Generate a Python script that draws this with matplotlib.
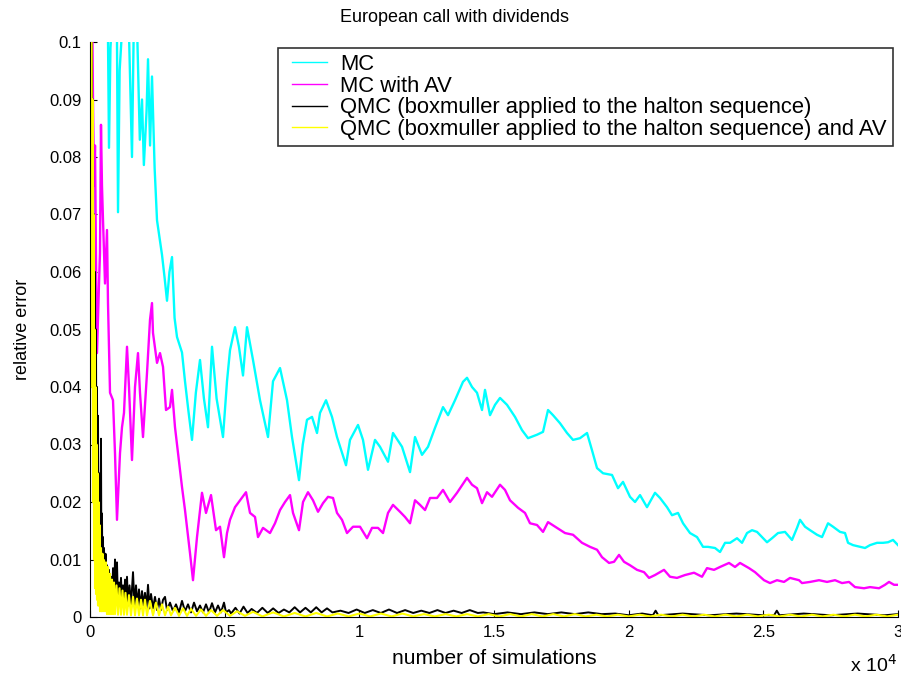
import matplotlib.pyplot as plt

# MC
mc_n = [1, 300, 650, 705, 760, 820, 900, 1000, 1040, 1100, 1188, 1300, 1450, 1559, 1620, 1745,
        1850, 1931, 2000, 2100, 2154, 2230, 2302, 2400, 2488, 2580, 2673, 2770, 2859, 2950, 3045,
        3140, 3230, 3416, 3527, 3650, 3787, 3930, 4084, 4230, 4381, 4530, 4700, 4938, 5087, 5198,
        5384, 5530, 5681, 5829, 6052, 6312, 6609, 6795, 7055, 7315, 7500, 7650, 7760, 7900, 8057,
        8243, 8429, 8540, 8763, 8985, 9171, 9505, 9654, 9951, 10136, 10322, 10582, 10768, 11065,
        11250, 11585, 11882, 12067, 12327, 12550, 12810, 13107, 13293, 13552, 13849, 13998, 14184,
        14369, 14555, 14666, 14852, 15038, 15223, 15483, 15780, 16040, 16263, 16597, 16820, 17006,
        17191, 17451, 17711, 17934, 18194, 18454, 18639, 18825, 19048, 19382, 19605, 19790, 20050,
        20236, 20422, 20681, 20978, 21164, 21424, 21610, 21832, 22018, 22278, 22538, 22761, 22946,
        23206, 23392, 23578, 23763, 24023, 24209, 24394, 24580, 24766, 24951, 25137, 25323, 25545,
        25805, 26065, 26251, 26362, 26548, 26734, 26994, 27179, 27402, 27588, 27848, 28033, 28145,
        28330, 28590, 28776, 28961, 29221, 29444, 29630, 29815, 30000]
mc_err = [0.35, 0.2, 0.11, 0.0816, 0.099, 0.104, 0.108, 0.102, 0.0704, 0.095, 0.102, 0.105, 0.101,
          0.080, 0.101, 0.103, 0.083, 0.09, 0.0786, 0.088, 0.097, 0.082, 0.094, 0.078, 0.069, 0.066,
          0.063, 0.059, 0.055, 0.060, 0.0626, 0.052, 0.0487, 0.046, 0.041, 0.036, 0.0308, 0.039,
          0.0447, 0.038, 0.033, 0.047, 0.038, 0.0313, 0.041, 0.0464, 0.0504, 0.047, 0.042, 0.0504,
          0.0447, 0.0377, 0.0313, 0.041, 0.0433, 0.0377, 0.0313, 0.027, 0.0238, 0.030, 0.0343,
          0.0348, 0.032, 0.0355, 0.0377, 0.0348, 0.0313, 0.0264, 0.0308, 0.0334, 0.0308, 0.0256,
          0.0308, 0.0296, 0.027, 0.032, 0.0296, 0.0252, 0.0313, 0.0282, 0.0296, 0.0329, 0.0365,
          0.0351, 0.0377, 0.0409, 0.0416, 0.04, 0.039, 0.036, 0.0395, 0.0351, 0.0369, 0.0381,
          0.0369, 0.0348, 0.0325, 0.0311, 0.0317, 0.0322, 0.036, 0.0351, 0.0337, 0.032, 0.0308,
          0.0311, 0.032, 0.029, 0.0259, 0.025, 0.0247, 0.0224, 0.0235, 0.0209, 0.02, 0.0212,
          0.0191, 0.0216, 0.0207, 0.0191, 0.0177, 0.0181, 0.0163, 0.0146, 0.0139, 0.0122, 0.0122,
          0.012, 0.0113, 0.0129, 0.0129, 0.0137, 0.0129, 0.0146, 0.0151, 0.0148, 0.0139, 0.013,
          0.0137, 0.0146, 0.0148, 0.0134, 0.0155, 0.0169, 0.0157, 0.0151, 0.0143, 0.0139, 0.0163,
          0.0157, 0.0148, 0.0146, 0.0129, 0.0125, 0.0122, 0.012, 0.0125, 0.0129, 0.0129, 0.013,
          0.0134, 0.0125]

# MC with AV
av_n = [1, 74, 111, 148, 186, 223, 260, 334, 371, 408, 445, 483, 557, 631, 668, 743, 854, 928,
        1002, 1114, 1188, 1262, 1374, 1448, 1559, 1671, 1782, 1856, 1968, 2116, 2228, 2302, 2339,
        2488, 2599, 2711, 2822, 2970, 3045, 3156, 3268, 3416, 3527, 3713, 3824, 3973, 4158, 4307,
        4493, 4679, 4827, 4975, 5087, 5198, 5384, 5570, 5792, 5941, 6127, 6238, 6424, 6683, 6869,
        7055, 7241, 7426, 7538, 7760, 7909, 8094, 8280, 8466, 8652, 8837, 9023, 9171, 9357, 9542,
        9765, 10025, 10285, 10471, 10693, 10879, 11065, 11250, 11510, 11696, 11882, 12067, 12253,
        12439, 12625, 12885, 13107, 13367, 13627, 13998, 14184, 14369, 14555, 14741, 14926, 15223,
        15409, 15594, 15891, 16151, 16337, 16597, 16820, 17006, 17340, 17637, 17934, 18268, 18565,
        18825, 19011, 19271, 19457, 19642, 19828, 20050, 20310, 20570, 20756, 20978, 21312, 21535,
        21795, 22092, 22426, 22723, 22909, 23169, 23392, 23726, 23949, 24134, 24468, 24691, 25025,
        25248, 25508, 25768, 25991, 26325, 26436, 26734, 27068, 27365, 27662, 27922, 28182, 28404,
        28739, 28961, 29295, 29518, 29667, 29852, 30000]
av_err = [0.3, 0.11, 0.09, 0.075, 0.082, 0.062, 0.0459, 0.058, 0.0633, 0.0856, 0.075, 0.069,
          0.058, 0.0673, 0.0546, 0.039, 0.0377, 0.0285, 0.0169, 0.0285, 0.033, 0.0355, 0.047, 0.04,
          0.0273, 0.04, 0.0459, 0.039, 0.0313, 0.0424, 0.0517, 0.0546, 0.0494, 0.0442, 0.0459,
          0.0435, 0.036, 0.0365, 0.0395, 0.033, 0.0285, 0.0226, 0.0186, 0.0111, 0.0064, 0.0139,
          0.0216, 0.0181, 0.0212, 0.0151, 0.0157, 0.0104, 0.0146, 0.0169, 0.0191, 0.0203, 0.0217,
          0.0181, 0.0174, 0.0139, 0.0155, 0.0146, 0.0163, 0.0186, 0.02, 0.0212, 0.0181, 0.0151,
          0.02, 0.0217, 0.0203, 0.0183, 0.0198, 0.0209, 0.0207, 0.0181, 0.0169, 0.0146, 0.0157,
          0.0157, 0.0137, 0.0155, 0.0155, 0.0146, 0.0181, 0.0195, 0.0183, 0.0174, 0.0163, 0.0203,
          0.0195, 0.0186, 0.0207, 0.0207, 0.0221, 0.02, 0.0216, 0.0242, 0.023, 0.0224, 0.0198,
          0.0217, 0.0209, 0.023, 0.0221, 0.0203, 0.019, 0.0181, 0.0163, 0.016, 0.0148, 0.0165,
          0.0155, 0.0146, 0.0143, 0.0129, 0.0122, 0.0117, 0.0104, 0.0094, 0.0096, 0.0108, 0.0096,
          0.009, 0.0082, 0.0078, 0.0068, 0.0073, 0.0082, 0.007, 0.0068, 0.0073, 0.0077, 0.007,
          0.0085, 0.0082, 0.0087, 0.0094, 0.0087, 0.0094, 0.0085, 0.0078, 0.0064, 0.0059, 0.0064,
          0.0061, 0.0068, 0.0064, 0.0059, 0.0061, 0.0064, 0.0061, 0.0064, 0.0059, 0.0061, 0.0052,
          0.005, 0.0052, 0.005, 0.0056, 0.0061, 0.0056, 0.0056]

# QMC (halton + boxmuller)
qmc_n = [10, 37, 74, 93, 111, 130, 148, 167, 186, 204, 223, 241, 260, 278, 297, 316, 334, 353,
         371, 390, 408, 427, 445, 464, 483, 501, 520, 557, 576, 613, 631, 668, 705, 743, 780, 817,
         854, 891, 928, 965, 1002, 1040, 1077, 1114, 1151, 1188, 1225, 1262, 1300, 1337, 1374,
         1411, 1467, 1522, 1597, 1652, 1708, 1764, 1819, 1875, 1931, 1986, 2042, 2098, 2154, 2210,
         2265, 2339, 2413, 2488, 2562, 2636, 2711, 2785, 2859, 2970, 3082, 3193, 3305, 3416, 3527,
         3639, 3750, 3862, 3973, 4084, 4196, 4307, 4418, 4530, 4641, 4753, 4864, 4975, 5050, 5161,
         5240, 5400, 5550, 5700, 5850, 6000, 6200, 6400, 6600, 6800, 7000, 7200, 7400, 7600, 7800,
         8000, 8200, 8400, 8600, 8800, 9000, 9300, 9600, 9900, 10200, 10500, 10800, 11100, 11400,
         11700, 12000, 12300, 12600, 12900, 13200, 13500, 13800, 14100, 14400, 14600, 15000,
         15500, 16000, 16500, 17000, 17500, 18000, 18500, 19000, 19500, 20000, 20500, 20900,
         21000, 21100, 22000, 23000, 24000, 25000, 25400, 25500, 25600, 26500, 27500, 28500,
         29500, 30000]
qmc_err = [0.12, 0.11, 0.095, 0.05, 0.09, 0.04, 0.07, 0.03, 0.06, 0.02, 0.05, 0.015, 0.04, 0.012,
           0.035, 0.01, 0.025, 0.006, 0.022, 0.004, 0.031, 0.004, 0.018, 0.003, 0.0139, 0.002,
           0.012, 0.002, 0.011, 0.002, 0.009, 0.002, 0.0082, 0.002, 0.007, 0.001, 0.0085, 0.002,
           0.01, 0.003, 0.0095, 0.002, 0.006, 0.003, 0.0068, 0.002, 0.0055, 0.002, 0.0065, 0.002,
           0.007, 0.002, 0.0055, 0.002, 0.0078, 0.002, 0.0055, 0.002, 0.0048, 0.0015, 0.0045,
           0.002, 0.0042, 0.0015, 0.0056, 0.0015, 0.004, 0.0015, 0.0035, 0.0012, 0.0032, 0.0012,
           0.003, 0.0035, 0.0012, 0.0025, 0.001, 0.0022, 0.0008, 0.0028, 0.001, 0.0022, 0.0008,
           0.0025, 0.001, 0.002, 0.0008, 0.0022, 0.0008, 0.0024, 0.0008, 0.002, 0.0008, 0.0025,
           0.0008, 0.0012, 0.0006, 0.0016, 0.0006, 0.0018, 0.0007, 0.0014, 0.0007, 0.0016, 0.0007,
           0.0015, 0.0007, 0.0013, 0.0008, 0.0017, 0.0008, 0.0016, 0.0008, 0.0017, 0.0008, 0.0015,
           0.0008, 0.0011, 0.0007, 0.0013, 0.0007, 0.0012, 0.0007, 0.0013, 0.0007, 0.0012, 0.0007,
           0.0011, 0.0007, 0.0012, 0.0007, 0.0011, 0.0007, 0.0012, 0.0007, 0.0008, 0.0005, 0.0008,
           0.0005, 0.0008, 0.0005, 0.0008, 0.0005, 0.0008, 0.0005, 0.0006, 0.0003, 0.0006, 0.0003,
           0.0011, 0.0003, 0.0006, 0.0003, 0.0006, 0.0003, 0.0003, 0.0011, 0.0003, 0.0006, 0.0003,
           0.0006, 0.0003, 0.0005]

# QMC (halton + boxmuller) and AV
qav_n = [7, 56, 74, 93, 111, 130, 148, 167, 186, 204, 223, 241, 260, 278, 297, 316, 334, 353,
         371, 408, 427, 464, 483, 520, 557, 594, 631, 668, 705, 743, 780, 817, 854, 891, 928, 984,
         1040, 1095, 1151, 1207, 1262, 1318, 1374, 1448, 1522, 1597, 1671, 1745, 1819, 1894, 1968,
         2042, 2116, 2228, 2339, 2451, 2562, 2673, 2785, 2896, 3008, 3156, 3305, 3453, 3602, 3750,
         3936, 4121, 4307, 4493, 4716, 4938, 5198, 5458, 5755, 6052, 6400, 6800, 7200, 7600, 8000,
         8400, 8800, 9200, 9600, 10000, 10400, 10800, 11200, 11600, 12000, 12400, 12800, 13200,
         13600, 14000, 14400, 14800, 15200, 15600, 16000, 16400, 16800, 17200, 17600, 18000, 18400,
         18800, 19200, 19600, 20000, 20400, 20800, 21200, 21600, 22000, 22400, 22800, 23200, 23600,
         24000, 24400, 24800, 25200, 25600, 26000, 26400, 26800, 27200, 27600, 28000, 28400, 28800,
         29200, 29600, 30000]
qav_err = [0.2, 0.11, 0.04, 0.09, 0.02, 0.07, 0.01, 0.05, 0.005, 0.04,
           0.004, 0.03, 0.003, 0.025, 0.002, 0.02, 0.002, 0.016, 0.001, 0.012,
           0.001, 0.011, 0.001, 0.0099, 0.001, 0.0095, 0.0005, 0.0087, 0.0005, 0.0075,
           0.0005, 0.0065, 0.0005, 0.006, 0.0005, 0.0055, 0.0004, 0.005, 0.0004, 0.0046,
           0.0004, 0.0042, 0.0004, 0.0038, 0.0003, 0.0035, 0.0003, 0.0032, 0.0003, 0.003,
           0.0003, 0.003, 0.0003, 0.0028, 0.0003, 0.0025, 0.0003, 0.0022, 0.0003, 0.0018,
           0.0003, 0.0016, 0.0002, 0.0015, 0.0002, 0.0014, 0.0002, 0.0013, 0.0002, 0.0012,
           0.0002, 0.0012, 0.0002, 0.001, 0.0002, 0.0009,
           0.0001, 0.0008, 0.0001, 0.0007, 0.0001, 0.0007, 0.0001, 0.0006, 0.0001, 0.0006,
           0.0001, 0.0006, 0.0001, 0.0006, 0.0001, 0.0005, 0.0001, 0.0005, 0.0001, 0.0005,
           0.0001, 0.0005, 0.0001, 0.0005, 0.0001, 0.0005, 0.0001, 0.0005, 0.0001, 0.0005,
           0.0001, 0.0004, 0.0001, 0.0004, 0.0001, 0.0004, 0.0001, 0.0004, 0.0001, 0.0004,
           0.0001, 0.0004, 0.0001, 0.0004, 0.0001, 0.0004, 0.0001, 0.0004, 0.0001, 0.0004,
           0.0001, 0.0004, 0.0001, 0.0004, 0.0001, 0.0004, 0.0001, 0.0004, 0.0001, 0.0004]

x_ticks = [0, 5000, 10000, 15000, 20000, 25000, 30000]
x_labels = ['0', '0.5', '1', '1.5', '2', '2.5', '3']
y_ticks = [0, 0.01, 0.02, 0.03, 0.04, 0.05, 0.06, 0.07, 0.08, 0.09, 0.1]
y_labels = ['0', '0.01', '0.02', '0.03', '0.04', '0.05', '0.06', '0.07', '0.08', '0.09', '0.1']

plt.rcParams['font.family'] = ['Liberation Sans', 'DejaVu Sans']

fig = plt.figure(figsize=(9.01, 6.77), dpi=100)
ax = fig.add_axes([90 / 901, 1 - 617 / 677, 808 / 901, 575 / 677])

ax.plot(mc_n, mc_err, color='#00ffff', lw=1.7, label='MC')
ax.plot(av_n, av_err, color='#ff00ff', lw=1.7, label='MC with AV')
ax.plot(qmc_n, qmc_err, color='black', lw=1.4,
        label='QMC (boxmuller applied to the halton sequence)')
ax.plot(qav_n, qav_err, color='#ffff00', lw=1.5,
        label='QMC (boxmuller applied to the halton sequence) and AV')

ax.set_xlim(0, 30000)
ax.set_ylim(0, 0.1)
ax.set_xticks(x_ticks)
ax.set_xticklabels(x_labels)
ax.set_yticks(y_ticks)
ax.set_yticklabels(y_labels)
ax.tick_params(direction='in', length=5, labelsize=12, pad=6)
ax.spines['top'].set_visible(False)
ax.spines['right'].set_visible(False)

ax.set_xlabel('number of simulations', fontsize=15, labelpad=6)
ax.set_ylabel('relative error', fontsize=13, labelpad=13)
fig.text(455 / 901, 1 - 18 / 677, 'European call with dividends', fontsize=13,
         ha='center', va='center')
fig.text(850 / 901, 1 - 665 / 677, r'x 10$^4$', fontsize=14, ha='left', va='center')

leg = ax.legend(loc='upper right', bbox_to_anchor=(893 / 901, 1 - 48 / 677),
                bbox_transform=fig.transFigure, fontsize=15.8, frameon=True, fancybox=False,
                handlelength=1.95, handletextpad=0.6, borderpad=0.28, labelspacing=0.03,
                borderaxespad=0)
leg.get_frame().set_edgecolor('black')
leg.get_frame().set_linewidth(1.2)
# legend lines start a little inside the box, as in the original
for line in leg.get_lines():
    line.set_linewidth(1.0)
    xd = list(line.get_xdata())
    line.set_xdata([xd[0] + 5.5, xd[-1]])
    line.set_ydata([line.get_ydata()[0]] * 2)

fig.savefig('out.png', dpi=100)
